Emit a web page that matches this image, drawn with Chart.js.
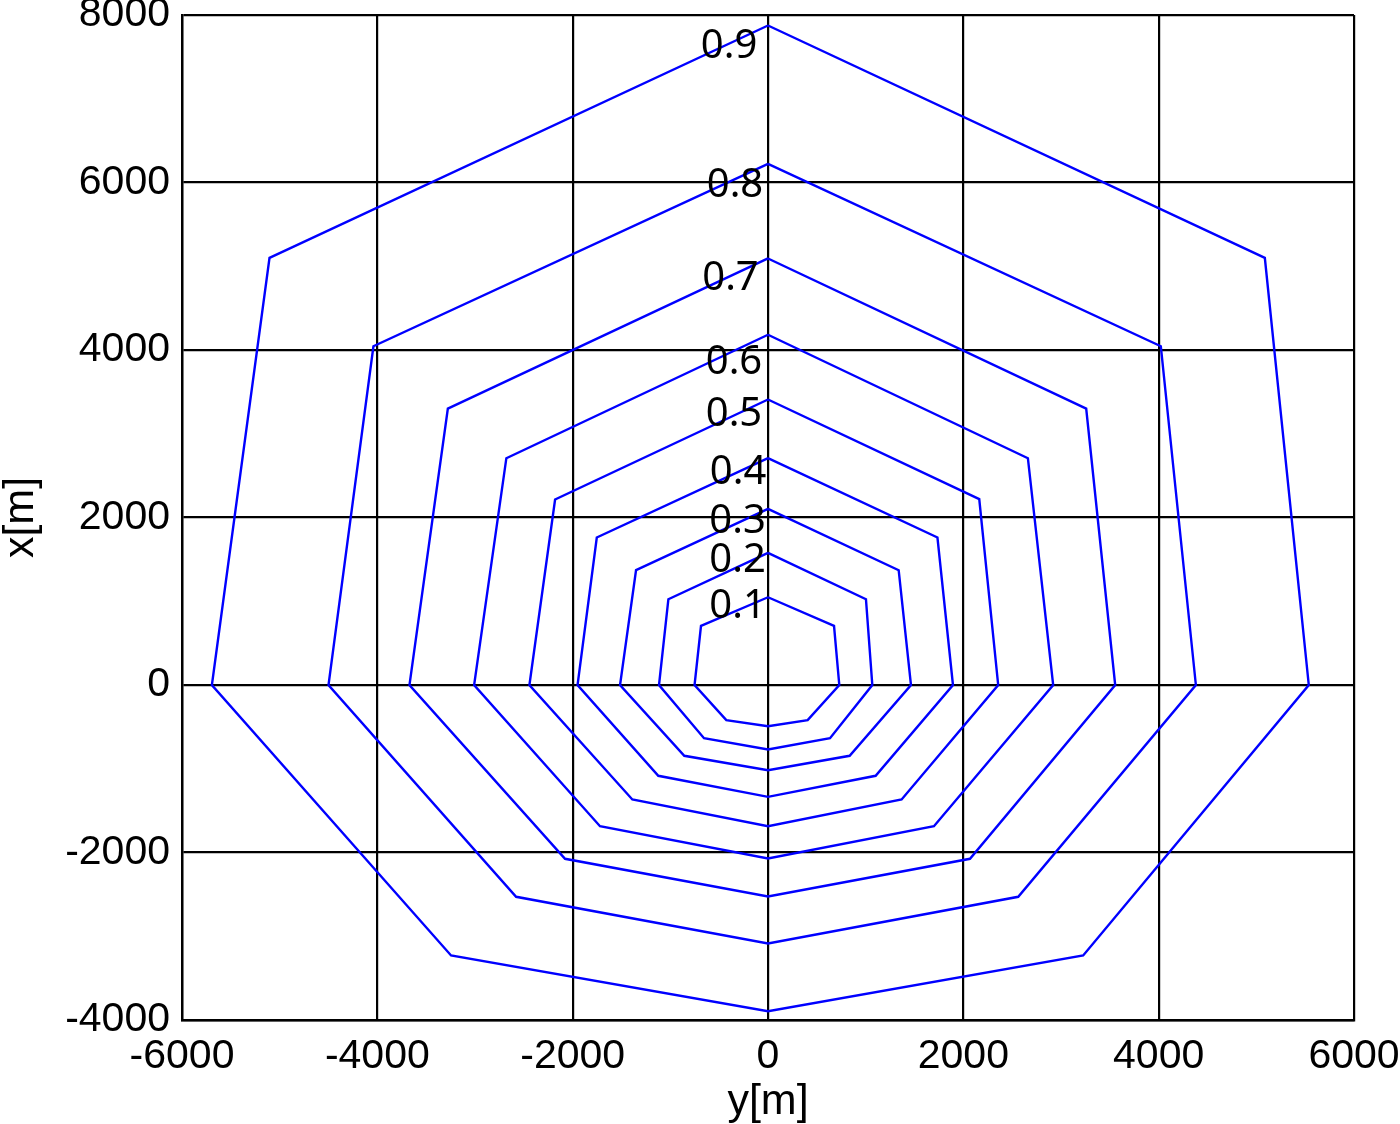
<!DOCTYPE html>
<html>
<head>
<meta charset="utf-8">
<title>contours</title>
<script src="https://cdn.jsdelivr.net/npm/chart.js@4.4.1/dist/chart.umd.min.js"></script>
<style>
  html, body { margin: 0; padding: 0; background: #fff; }
  canvas { display: block; }
</style>
</head>
<body>
<canvas id="chart" width="1400" height="1124"></canvas>
<script>
// Contour levels, inner to outer.
const levels = ['0.1', '0.2', '0.3', '0.4', '0.5', '0.6', '0.7', '0.8', '0.9'];

// Each contour is an 8-vertex polygon. The horizontal axis is y[m], the
// vertical one x[m]. One array per vertex, one entry per level.
const topX        = [1048, 1578, 2104, 2708, 3409, 4182, 5093, 6223, 7875];
const upperRightY = [676, 1003, 1338, 1735, 2163, 2661, 3258, 4022, 5087];
const upperRightX = [707, 1024, 1371, 1761, 2219, 2708, 3301, 4045, 5101];
const rightY      = [730, 1068, 1464, 1894, 2357, 2920, 3555, 4381, 5537];
const lowerRightY = [406, 635, 836, 1102, 1368, 1699, 2068, 2562, 3227];
const lowerRightX = [-420, -635, -845, -1084, -1367, -1686, -2075, -2529, -3230];
const bottomX     = [-492, -770, -1017, -1335, -1686, -2072, -2525, -3087, -3895];
const lowerLeftY  = [-427, -655, -857, -1123, -1389, -1720, -2078, -2579, -3245];
const lowerLeftX  = [-420, -635, -845, -1084, -1367, -1686, -2075, -2529, -3230];
const leftY       = [-752, -1116, -1515, -1950, -2443, -3009, -3671, -4500, -5694];
const upperLeftY  = [-686, -1020, -1351, -1753, -2180, -2679, -3278, -4040, -5104];
const upperLeftX  = [707, 1024, 1371, 1761, 2215, 2708, 3301, 4045, 5101];

// Where the level labels sit (centre of the text, in data units).
const labelY = [-312, -312, -312, -307, -348, -348, -384, -338, -399];
const labelX = [937, 1487, 1952, 2537, 3230, 3851, 4854, 5964, 7624];

const BLUE = '#0000ff';
const TICK_FONT = { family: '"Liberation Sans", Arial, sans-serif', size: 41 };
const TITLE_FONT = { family: '"Liberation Sans", Arial, sans-serif', size: 43, lineHeight: 1 };

function contourPoints(i) {
  return [
    { x: 0, y: topX[i] },
    { x: upperRightY[i], y: upperRightX[i] },
    { x: rightY[i], y: 0 },
    { x: lowerRightY[i], y: lowerRightX[i] },
    { x: 0, y: bottomX[i] },
    { x: lowerLeftY[i], y: lowerLeftX[i] },
    { x: leftY[i], y: 0 },
    { x: upperLeftY[i], y: upperLeftX[i] },
    { x: 0, y: topX[i] },
  ];
}

// Level numbers drawn on top of the lines, like the contour labels.
const levelLabels = {
  id: 'levelLabels',
  afterDatasetsDraw(chart) {
    const { ctx, scales } = chart;
    ctx.save();
    ctx.fillStyle = '#000';
    ctx.font = '40px "Noto Sans", sans-serif';
    ctx.textAlign = 'center';
    ctx.textBaseline = 'middle';
    levels.forEach((lv, i) => {
      ctx.fillText(lv, scales.x.getPixelForValue(labelY[i]), scales.y.getPixelForValue(labelX[i]));
    });
    ctx.restore();
  },
};

const plainTick = v => String(v);

new Chart(document.getElementById('chart'), {
  type: 'scatter',
  data: {
    datasets: levels.map((lv, i) => ({
      label: lv,
      data: contourPoints(i),
      showLine: true,
      borderColor: BLUE,
      borderWidth: 2.4,
      pointRadius: 0,
      tension: 0,
      fill: false,
    })),
  },
  options: {
    responsive: false,
    devicePixelRatio: 1,
    animation: false,
    layout: { padding: { top: 15, right: 46, left: 0, bottom: 0 } },
    plugins: { legend: { display: false }, tooltip: { enabled: false } },
    scales: {
      x: {
        type: 'linear',
        min: -6000,
        max: 6000,
        ticks: { stepSize: 2000, color: '#000', font: TICK_FONT, padding: 12, maxRotation: 0, autoSkip: false, callback: plainTick },
        grid: { color: '#000', lineWidth: 2.2, drawTicks: false },
        border: { color: '#000', width: 2.4 },
        title: { display: true, text: 'y[m]', color: '#000', font: TITLE_FONT, padding: 0 },
        afterFit(s) { s.height = 104; s.paddingLeft = 0; s.paddingRight = 0; },
      },
      y: {
        type: 'linear',
        min: -4000,
        max: 8000,
        ticks: { stepSize: 2000, color: '#000', font: TICK_FONT, padding: 12, autoSkip: false, callback: plainTick },
        grid: { color: '#000', lineWidth: 2.2, drawTicks: false },
        border: { color: '#000', width: 2.4 },
        title: { display: true, text: 'x[m]', color: '#000', font: TITLE_FONT, padding: 0 },
        afterFit(s) { s.width = 182; s.paddingTop = 0; s.paddingBottom = 0; },
      },
    },
  },
  plugins: [levelLabels],
});
</script>
</body>
</html>
